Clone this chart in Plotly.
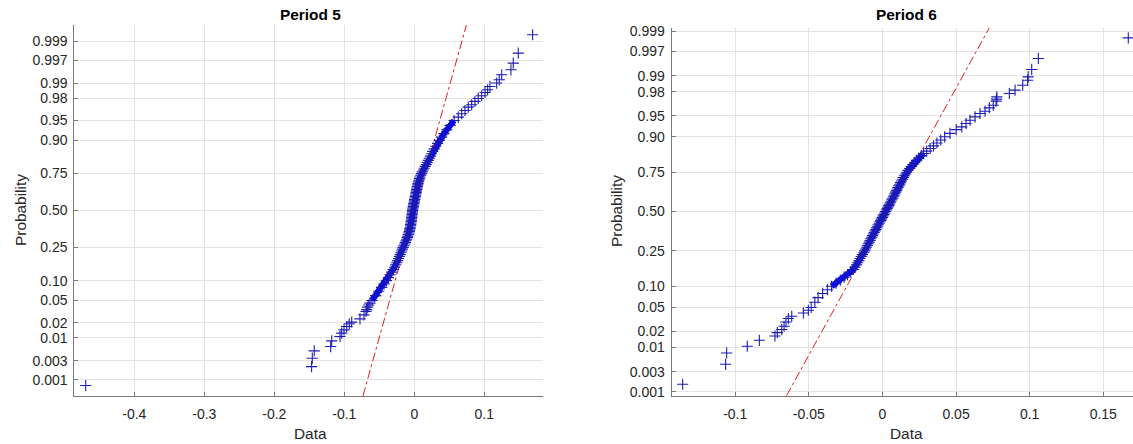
import plotly.graph_objects as go
from statistics import NormalDist

# ---------------- data ----------------
# Period 5 : sorted sample values and their probability positions
p5_low = [0.00069, 0.00217, 0.00348, 0.00516, 0.00646, 0.00861, 0.01064, 0.01251, 0.01459,
          0.01696, 0.01918, 0.02068, 0.02385, 0.02826, 0.03245, 0.035, 0.0387, 0.042, 0.0452]
x5_low = [-0.4694, -0.1467, -0.1457, -0.1429, -0.1194, -0.1180, -0.1061, -0.1037, -0.1004,
          -0.0966, -0.0929, -0.0894, -0.0776, -0.0719, -0.0690, -0.0680, -0.0666, -0.0650, -0.0633]
p5_mid = [0.05, 0.06, 0.07, 0.08, 0.09, 0.10, 0.11, 0.12, 0.13, 0.14, 0.15, 0.16, 0.17, 0.18, 0.19,
          0.20, 0.21, 0.22, 0.23, 0.24, 0.25, 0.26, 0.27, 0.28, 0.29, 0.30, 0.31, 0.32, 0.33, 0.34,
          0.35, 0.36, 0.37, 0.38, 0.39, 0.40, 0.41, 0.42, 0.43, 0.44, 0.45, 0.46, 0.47, 0.48, 0.49,
          0.50, 0.51, 0.52, 0.53, 0.54, 0.55, 0.56, 0.57, 0.58, 0.59, 0.60, 0.61, 0.62, 0.63, 0.64,
          0.65, 0.66, 0.67, 0.68, 0.69, 0.70, 0.71, 0.72, 0.73, 0.74, 0.75, 0.76, 0.77, 0.78, 0.79,
          0.80, 0.81, 0.82, 0.83, 0.84, 0.85, 0.86, 0.87, 0.88, 0.89, 0.90, 0.91, 0.92, 0.93, 0.94, 0.95]
x5_mid = [-0.0604, -0.0553, -0.0508, -0.0468, -0.0431, -0.0398, -0.0369, -0.0344, -0.0322, -0.0302,
          -0.0283, -0.0266, -0.0251, -0.0237, -0.0225, -0.0213, -0.0202, -0.0191, -0.0180, -0.0169,
          -0.0158, -0.0148, -0.0137, -0.0127, -0.0117, -0.0108, -0.0099, -0.0092, -0.0085, -0.0078,
          -0.0072, -0.0067, -0.0062, -0.0057, -0.0053, -0.0050, -0.0047, -0.0043, -0.0041, -0.0038,
          -0.0036, -0.0033, -0.0031, -0.0029, -0.0026, -0.0024, -0.0021, -0.0017, -0.0014, -0.0010,
          -0.0006, -0.0002, 0.0002, 0.0006, 0.0010, 0.0014, 0.0019, 0.0023, 0.0027, 0.0031,
          0.0036, 0.0040, 0.0045, 0.0050, 0.0054, 0.0061, 0.0067, 0.0074, 0.0082, 0.0093,
          0.0103, 0.0115, 0.0129, 0.0143, 0.0157, 0.0172, 0.0186, 0.0201, 0.0215, 0.0230,
          0.0246, 0.0264, 0.0284, 0.0306, 0.0332, 0.0359, 0.0390, 0.0425, 0.0465, 0.0512, 0.0569]
p5_high = [0.9561, 0.9615, 0.9662, 0.9706, 0.9733, 0.9769, 0.9797, 0.982, 0.9845, 0.98634, 0.9883,
           0.99007, 0.99155, 0.99345, 0.99494, 0.99647, 0.99799, 0.99934]
x5_high = [0.0629, 0.0677, 0.0724, 0.0771, 0.0820, 0.0867, 0.0914, 0.0963, 0.1010, 0.1048, 0.1081,
           0.1177, 0.1214, 0.1249, 0.1381, 0.1414, 0.1486, 0.1691]
fit5 = {"mu": 0.0006, "sigma": 0.0218}

# Period 6
p6_low = [0.00153, 0.0044, 0.00765, 0.01044, 0.01362, 0.01642, 0.01895, 0.02148, 0.02459, 0.02911,
          0.03325, 0.03625, 0.04102, 0.04523]
x6_low = [-0.1357, -0.1065, -0.1058, -0.0918, -0.0836, -0.0730, -0.0714, -0.0684, -0.0668, -0.0655,
          -0.0639, -0.0616, -0.0537, -0.0503]
p6_mid = [0.05, 0.06, 0.07, 0.08, 0.09, 0.10, 0.11, 0.12, 0.13, 0.14, 0.15, 0.16, 0.17, 0.18, 0.19,
          0.20, 0.21, 0.22, 0.23, 0.24, 0.25, 0.26, 0.27, 0.28, 0.29, 0.30, 0.31, 0.32, 0.33, 0.34,
          0.35, 0.36, 0.37, 0.38, 0.39, 0.40, 0.41, 0.42, 0.43, 0.44, 0.45, 0.46, 0.47, 0.48, 0.49,
          0.50, 0.51, 0.52, 0.53, 0.54, 0.55, 0.56, 0.57, 0.58, 0.59, 0.60, 0.61, 0.62, 0.63, 0.64,
          0.65, 0.66, 0.67, 0.68, 0.69, 0.70, 0.71, 0.72, 0.73, 0.74, 0.75, 0.76, 0.77, 0.78, 0.79,
          0.80, 0.81, 0.82, 0.83, 0.84, 0.85, 0.86, 0.87, 0.88, 0.89, 0.90, 0.91, 0.92]
x6_mid = [-0.0484, -0.0459, -0.0437, -0.0406, -0.0374, -0.0345, -0.0315, -0.0286, -0.0260, -0.0237,
          -0.0216, -0.0198, -0.0187, -0.0176, -0.0168, -0.0160, -0.0153, -0.0144, -0.0136, -0.0127,
          -0.0120, -0.0114, -0.0108, -0.0102, -0.0096, -0.0090, -0.0084, -0.0079, -0.0073, -0.0067,
          -0.0062, -0.0056, -0.0050, -0.0044, -0.0039, -0.0033, -0.0028, -0.0022, -0.0017, -0.0011,
          -0.0006, 0.0000, 0.0005, 0.0011, 0.0016, 0.0021, 0.0027, 0.0032, 0.0038, 0.0043,
          0.0048, 0.0054, 0.0059, 0.0064, 0.0070, 0.0075, 0.0080, 0.0085, 0.0090, 0.0096,
          0.0101, 0.0106, 0.0112, 0.0118, 0.0123, 0.0129, 0.0136, 0.0142, 0.0149, 0.0157,
          0.0165, 0.0174, 0.0185, 0.0196, 0.0207, 0.0220, 0.0232, 0.0246, 0.0263, 0.0280,
          0.0301, 0.0324, 0.0347, 0.0370, 0.0396, 0.0423, 0.0459, 0.0501]
p6_high = [0.9266, 0.9344, 0.9413, 0.9477, 0.9536, 0.9573, 0.9622, 0.9658, 0.9708, 0.9730, 0.9753,
           0.9785, 0.9813, 0.98485, 0.98784, 0.98953, 0.99257, 0.99566, 0.99855]
x6_high = [0.0539, 0.0568, 0.0595, 0.0629, 0.0663, 0.0697, 0.0726, 0.0753, 0.0772, 0.0776, 0.0777,
           0.0862, 0.0901, 0.0953, 0.0986, 0.0990, 0.1014, 0.1059, 0.1670]
fit6 = {"mu": 0.0038, "sigma": 0.02184}

prob_ticks = [0.001, 0.003, 0.01, 0.02, 0.05, 0.10, 0.25, 0.50, 0.75, 0.90, 0.95, 0.98, 0.99, 0.997, 0.999]
prob_labels = ["0.001", "0.003", "0.01", "0.02", "0.05", "0.10", "0.25", "0.50", "0.75", "0.90",
               "0.95", "0.98", "0.99", "0.997", "0.999"]
x5_ticks = [-0.4, -0.3, -0.2, -0.1, 0, 0.1]
x5_labels = ["-0.4", "-0.3", "-0.2", "-0.1", "0", "0.1"]
x6_ticks = [-0.1, -0.05, 0, 0.05, 0.1, 0.15]
x6_labels = ["-0.1", "-0.05", "0", "0.05", "0.1", "0.15"]
titles = ["Period 5", "Period 6"]

# ---------------- drawing ----------------
ND = NormalDist()
def q(ps):
    return [ND.inv_cdf(v) for v in ps]

W, H = 1133, 444
FONT = "Liberation Sans, Arial, Helvetica, sans-serif"
TXT = "#262626"
MARK = "rgb(28,28,180)"
BAND = "rgb(0,0,245)"

yr5 = [-3.39, 3.39]
yr6 = [-3.158, 3.152]
xr5 = [-0.4857, 0.1839]
xr6 = [-0.1432, 0.1702]

# plot-area boxes in page pixels
box5 = dict(l=74.3, r=543.0, t=25.0, b=396.0)
box6 = dict(l=671.6, r=1133.0, t=27.7, b=395.7)

def px(xp):
    return xp / W

def py(yp):
    return (H - yp) / H

def dom_x(b):
    return [px(b["l"]), min(1.0, px(b["r"]))]

def dom_y(b):
    return [py(b["b"]), py(b["t"])]

fig = go.Figure()

# reference (fit) lines first, so the dense markers cover them
for fit, yr, xa, ya in [(fit5, yr5, "x", "y"), (fit6, yr6, "x2", "y2")]:
    fig.add_trace(go.Scatter(
        x=[fit["mu"] + fit["sigma"] * yr[0], fit["mu"] + fit["sigma"] * yr[1]],
        y=yr, xaxis=xa, yaxis=ya, mode="lines",
        line=dict(color="rgb(225,30,30)", width=1, dash="dashdot"),
        showlegend=False, hoverinfo="skip"))

# solid core where the markers pile up
band6 = [(x, p) for x, p in zip(x6_mid, p6_mid) if 0.10 <= p <= 0.84]
for xs, ps, xa, ya in [
    (x5_mid, p5_mid, "x", "y"),
    ([b[0] for b in band6], [b[1] for b in band6], "x2", "y2"),
]:
    fig.add_trace(go.Scatter(
        x=xs, y=q(ps), xaxis=xa, yaxis=ya, mode="lines",
        line=dict(color=BAND, width=6), showlegend=False, hoverinfo="skip"))

for xs, ps, xa, ya in [
    (x5_low + x5_mid + x5_high, p5_low + p5_mid + p5_high, "x", "y"),
    (x6_low + x6_mid + x6_high, p6_low + p6_mid + p6_high, "x2", "y2"),
]:
    fig.add_trace(go.Scatter(
        x=xs, y=q(ps), xaxis=xa, yaxis=ya, mode="markers",
        marker=dict(symbol="cross-thin", size=8, line=dict(color=MARK, width=1.1)),
        showlegend=False, hoverinfo="skip"))

axis_common = dict(
    showgrid=True, gridcolor="#e4e4e4", gridwidth=1, zeroline=False,
    showline=True, linecolor="#7a7a7a", linewidth=1, mirror=False,
    ticks="inside", ticklen=4, tickcolor="#7a7a7a", tickwidth=1,
    tickfont=dict(family=FONT, size=14, color=TXT), automargin=False,
)
xax = dict(ticklabelstandoff=5, **axis_common)
yax = dict(ticklabelstandoff=3, **axis_common)

ytick_vals = q(prob_ticks)
fig.update_layout(
    width=W, height=H, margin=dict(l=0, r=0, t=0, b=0),
    paper_bgcolor="white", plot_bgcolor="white",
    xaxis=dict(domain=dom_x(box5), range=xr5, tickvals=x5_ticks, ticktext=x5_labels,
               anchor="y", **xax),
    yaxis=dict(domain=dom_y(box5), range=yr5, tickvals=ytick_vals, ticktext=prob_labels,
               anchor="x", **yax),
    xaxis2=dict(domain=dom_x(box6), range=xr6, tickvals=x6_ticks, ticktext=x6_labels,
                anchor="y2", **xax),
    yaxis2=dict(domain=dom_y(box6), range=yr6, tickvals=ytick_vals, ticktext=prob_labels,
                anchor="x2", **yax),
)

ann = []
for cx_title, t in [(310.0, titles[0]), (906.4, titles[1])]:
    ann.append(dict(text="<b>" + t + "</b>", x=px(cx_title), y=py(15.0), xref="paper", yref="paper",
                    xanchor="center", yanchor="middle", showarrow=False,
                    font=dict(family=FONT, size=15.4, color="black")))
    ann.append(dict(text="Data", x=px(cx_title), y=py(433.0), xref="paper", yref="paper",
                    xanchor="center", yanchor="middle", showarrow=False,
                    font=dict(family=FONT, size=15.4, color=TXT)))
for cx, cy in [(20.0, 210.0), (616.0, 211.0)]:
    ann.append(dict(text="Probability", x=px(cx), y=py(cy), xref="paper", yref="paper",
                    xanchor="center", yanchor="middle", showarrow=False, textangle=-90,
                    font=dict(family=FONT, size=15.4, color=TXT)))
fig.update_layout(annotations=ann)

fig.write_html("out.html",
               config={"displayModeBar": False, "staticPlot": True},
               post_script="document.body.style.margin='0px';document.body.style.overflow='hidden';")
